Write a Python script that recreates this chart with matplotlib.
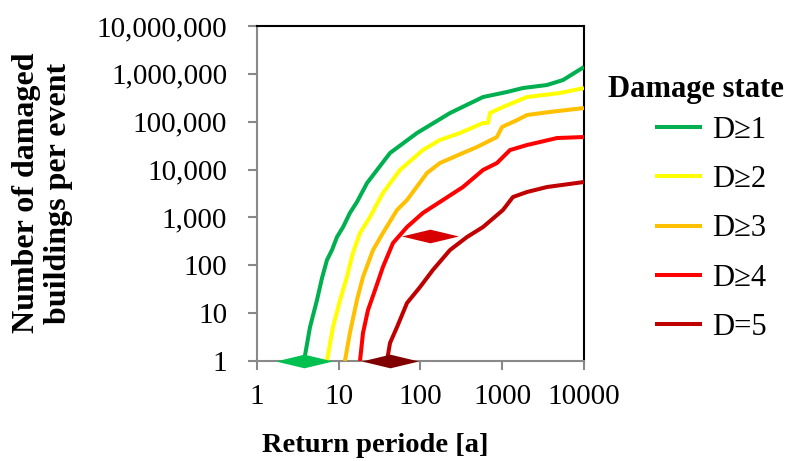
import numpy as np
import matplotlib
matplotlib.use('Agg')
import matplotlib.pyplot as plt
from matplotlib.path import Path
from matplotlib.ticker import FuncFormatter, FixedLocator, NullLocator

plt.rcParams['font.family'] = ['Liberation Serif', 'DejaVu Serif']

# return period [a] / number of damaged buildings
d1_x = [3.76, 4.45, 5.42, 6.24, 7.18, 8.27, 9.52, 11.3, 13.7, 16.7, 22.2, 42.4, 90.6, 230, 582, 1143, 1794, 3527, 5535, 10000]
d1_y = [1, 5.1, 18.8, 54, 129, 209, 390, 630, 1240, 2100, 5240, 22200, 58000, 152000, 328000, 418000, 506000, 585000, 743000, 1390000]

d2_x = [7.18, 8.5, 10.4, 12.6, 14.9, 18.2, 24.1, 34.7, 56.1, 107, 173, 304, 582, 670, 708, 1021, 2010, 5085, 10000]
d2_y = [1, 5.1, 18.8, 57, 181, 472, 1020, 3240, 9800, 25600, 41500, 58000, 94000, 94000, 152000, 203000, 328000, 398000, 506000]

d3_x = [11.9, 13.7, 16.7, 19.8, 26.3, 34.7, 51.6, 68.4, 120, 173, 331, 491, 862, 993, 1514, 2010, 3837, 10000]
d3_y = [1, 3.85, 18.8, 57, 209, 472, 1430, 2310, 8470, 13700, 22200, 29600, 47900, 77500, 108000, 138000, 160000, 193000]

d4_x = [18.2, 19.8, 22.8, 27.8, 34.7, 46.1, 68.4, 107, 188, 331, 582, 862, 1245, 2010, 4677, 10000]
d4_y = [1, 3.85, 11.6, 30.4, 92, 292, 630, 1240, 2310, 4320, 9800, 13700, 25600, 32600, 45600, 47900]

d5_x = [38.9, 42.4, 51.6, 68.4, 98.6, 142, 230, 371, 582, 1021, 1352, 2010, 3527, 10000]
d5_y = [1, 2.38, 5.1, 16.3, 35, 80, 209, 390, 630, 1430, 2670, 3400, 4320, 5500]

labels = ['D\u22651', 'D\u22652', 'D\u22653', 'D\u22654', 'D=5']
colors = ['#00B050', '#FFFF00', '#FFC000', '#FF0000', '#C00000']

# diamond markers (centre of range)
dia_x = [3.8, 131, 42.4]
dia_y = [1, 409, 1]
dia_colors = ['#00C050', '#D80000', '#800000']

x_ticks = [1, 10, 100, 1000, 10000]
y_ticks = [1, 10, 100, 1000, 10000, 100000, 1000000, 10000000]

fig = plt.figure(figsize=(7.9, 4.61), dpi=100)
ax = fig.add_axes([0.3253, 0.2169, 0.4139, 0.7267])

series = [(d1_x, d1_y), (d2_x, d2_y), (d3_x, d3_y), (d4_x, d4_y), (d5_x, d5_y)]
for (xs, ys), c, lab in zip(series, colors, labels):
    ax.plot(xs, ys, color=c, lw=2.9, label=lab, solid_joinstyle='round',
            solid_capstyle='butt', zorder=3)

diamond = Path([(-0.5, 0), (0, 0.12), (0.5, 0), (0, -0.12), (-0.5, 0)],
               [Path.MOVETO, Path.LINETO, Path.LINETO, Path.LINETO, Path.CLOSEPOLY])
for x, y, c in zip(dia_x, dia_y, dia_colors):
    ax.plot([x], [y], marker=diamond, markersize=41, color=c, mec='none',
            clip_on=False, zorder=5, linestyle='none')

ax.set_xscale('log')
ax.set_yscale('log')
ax.set_xlim(1, 10000)
ax.set_ylim(1, 10000000)
ax.xaxis.set_major_locator(FixedLocator(x_ticks))
ax.yaxis.set_major_locator(FixedLocator(y_ticks))
ax.xaxis.set_minor_locator(NullLocator())
ax.yaxis.set_minor_locator(NullLocator())
ax.xaxis.set_major_formatter(FuncFormatter(lambda v, p: f'{int(round(v))}'))
ax.yaxis.set_major_formatter(FuncFormatter(lambda v, p: f'{int(round(v)):,}'))

gray = '#898989'
for s in ['left', 'bottom']:
    ax.spines[s].set_color(gray)
    ax.spines[s].set_linewidth(1.5)
for s in ['top', 'right']:
    ax.spines[s].set_color('black')
    ax.spines[s].set_linewidth(1.5)
ax.tick_params(axis='both', which='major', direction='out', length=6.5, width=1.5,
               color=gray, labelsize=21)
ax.tick_params(axis='y', pad=15)
ax.tick_params(axis='x', pad=10)

fig.text(375 / 790, 1 - 452 / 461, 'Return periode [a]', ha='center', va='baseline',
         fontsize=20.5, fontweight='bold')
fig.text(0.054, 0.581, 'Number of damaged\nbuildings per event', ha='center', va='center',
         rotation=90, fontsize=23, fontweight='bold', linespacing=1.12)

fig.text(696 / 790, 1 - 90 / 461, 'Damage state', ha='center', va='center',
         fontsize=22, fontweight='bold')
leg = ax.legend(loc='upper left', bbox_to_anchor=(655 / 790, 1 - 116 / 461),
                bbox_transform=fig.transFigure, frameon=False, fontsize=22,
                handlelength=1.54, handletextpad=0.33, labelspacing=0.66,
                borderpad=0, borderaxespad=0)

fig.savefig('out.png', dpi=100)
